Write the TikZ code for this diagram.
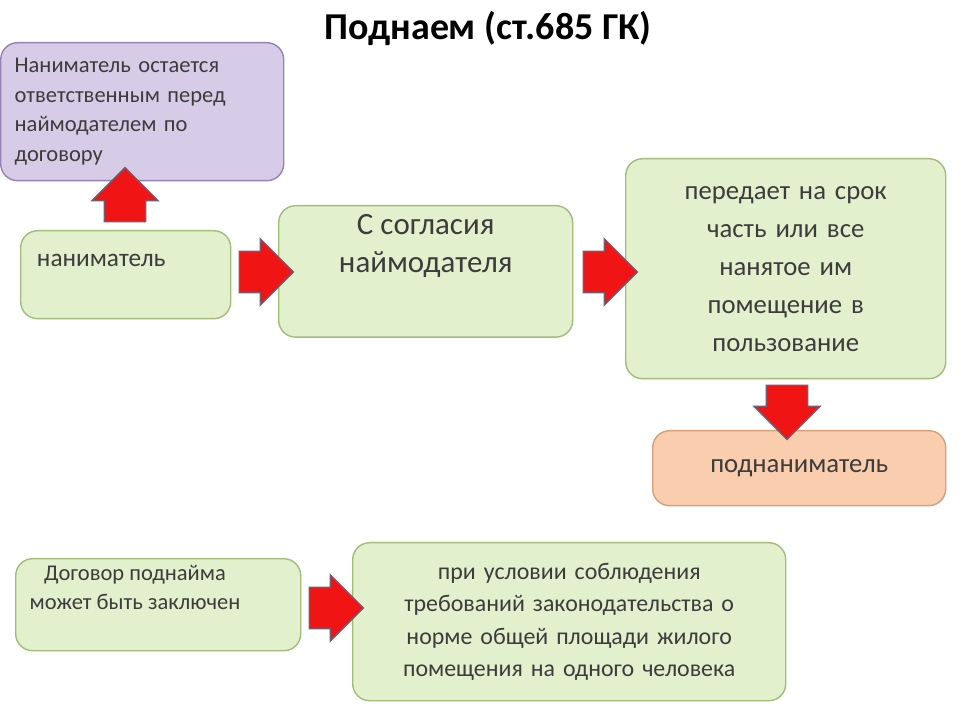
\documentclass[tikz,border=0pt]{standalone}
\usepackage{fontspec}
\setmainfont{Carlito}
\usepackage{tikz}
\usetikzlibrary{positioning}
\usetikzlibrary{shapes.arrows}

\definecolor{greenfill}{RGB}{226,240,206}
\definecolor{greenedge}{RGB}{160,190,120}
\definecolor{purplefill}{RGB}{214,204,232}
\definecolor{purpleedge}{RGB}{150,130,180}
\definecolor{orangefill}{RGB}{250,205,175}
\definecolor{orangeedge}{RGB}{215,160,120}
\definecolor{txt}{RGB}{60,60,60}
\definecolor{arrred}{RGB}{240,20,20}
\definecolor{arredge}{RGB}{120,90,110}

\begin{document}
\begin{tikzpicture}[x=0.025cm, y=-0.025cm]
% ------------------------------------------------- 
\tikzset{
  base/.style={draw, rounded corners=12pt, line width=1pt, text=txt, inner sep=6pt},
  gbox/.style={base, fill=greenfill, draw=greenedge, align=center},
  pbox/.style={base, fill=purplefill, draw=purpleedge, align=left},
  obox/.style={base, fill=orangefill, draw=orangeedge, align=center},
  redarrow/.style={single arrow, draw=arredge, fill=arrred, line width=1pt,
    inner sep=0.4cm, minimum width=1.65cm},
}
    \useasboundingbox (0,0) rectangle (960,720);

    \node [font=\fontsize{27}{30}\selectfont\bfseries] (title) at (488,28) {Поднаем (ст.685 ГК)};

    % top row
    \node [pbox, minimum width=283*0.025cm, minimum height=138*0.025cm, text width=255*0.025cm,
      font=\fontsize{16}{21}\selectfont, anchor=north west] (tenantduty) at (0,42)
      {Наниматель остается ответственным перед наймодателем по договору};
    \node [gbox, minimum width=210*0.025cm, minimum height=88*0.025cm, anchor=north west]
      (tenant) at (20,230) {};
    \node [text=txt, anchor=west, font=\fontsize{18}{22}\selectfont] (tenanttxt) at (32,260) {наниматель};
    \node [gbox, minimum width=294*0.025cm, minimum height=113*0.025cm, anchor=north west,
      font=\fontsize{22}{27}\selectfont] (consent) at (278,205) {С согласия\\наймодателя\\[0.6em]};
    \node [gbox, minimum width=320*0.025cm, minimum height=220*0.025cm, text width=290*0.025cm,
      anchor=north west, font=\fontsize{19}{27}\selectfont] (transfer) at (625,158)
      {передает на срок\\часть или все\\нанятое им\\помещение в\\пользование\\[0.4em]};
    \node [obox, minimum width=293*0.025cm, minimum height=75*0.025cm, anchor=north west,
      font=\fontsize{19}{23}\selectfont] (subtenant) at (652,430) {поднаниматель};

    % bottom row
    \node [gbox, minimum width=285*0.025cm, minimum height=92*0.025cm, anchor=north west]
      (contract) at (15,558) {};
    \node [text=txt, align=center, anchor=north, font=\fontsize{16}{21}\selectfont]
      (contracttxt) at (135,560) {Договор поднайма\\может быть заключен};
    \node [gbox, minimum width=433*0.025cm, minimum height=158*0.025cm, text width=400*0.025cm,
      anchor=north west, font=\fontsize{17}{23}\selectfont] (condition) at (352,542)
      {при условии соблюдения требований законодательства о норме общей площади жилого помещения на одного человека};

    % block arrows
    \node [redarrow, shape border rotate=90, minimum height=52*0.025cm] (a1) at (125,205) {};
    \node [redarrow, minimum height=48*0.025cm] (a2) at (256,272) {};
    \node [redarrow, minimum height=50*0.025cm] (a3) at (600,272) {};
    \node [redarrow, shape border rotate=270, minimum height=53*0.025cm] (a4) at (787,402) {};
    \node [redarrow, minimum height=52*0.025cm] (a5) at (326,608) {};

\end{tikzpicture}
\end{document}
